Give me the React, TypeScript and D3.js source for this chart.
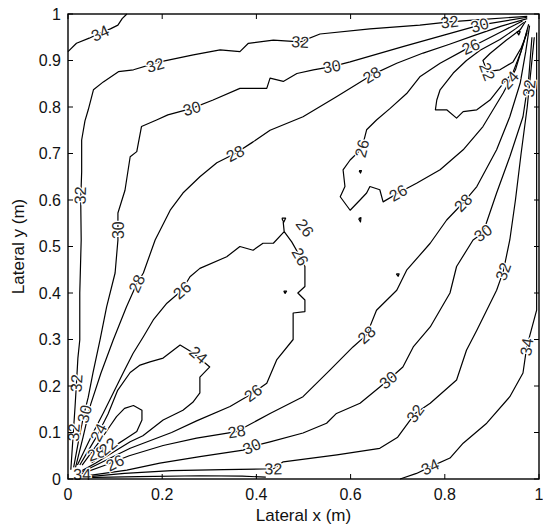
import React from 'react';
import * as d3 from 'd3';

// ---- axes ----
const xTicks = [0, 0.2, 0.4, 0.6, 0.8, 1];
const xTickLabels = ['0', '0.2', '0.4', '0.6', '0.8', '1'];
const yTicks = [0, 0.1, 0.2, 0.3, 0.4, 0.5, 0.6, 0.7, 0.8, 0.9, 1];
const yTickLabels = ['0', '0.1', '0.2', '0.3', '0.4', '0.5', '0.6', '0.7', '0.8', '0.9', '1'];
const xTitle = 'Lateral x (m)';
const yTitle = 'Lateral y (m)';

// ---- contour lines, [x, y] in metres ----
const c34TopLeft = [[0, 0.919], [0.018, 0.937], [0.045, 0.948], [0.068, 0.959], [0.09, 0.968], [0.106, 0.976], [0.115, 0.99], [0.125, 1]];

const c32Upper = [[0.006, 0.02], [0.01, 0.08], [0.015, 0.156], [0.018, 0.206], [0.021, 0.26], [0.025, 0.299], [0.025, 0.4], [0.028, 0.514], [0.027, 0.6], [0.029, 0.66], [0.029, 0.729], [0.036, 0.77], [0.043, 0.794], [0.054, 0.837], [0.075, 0.854], [0.107, 0.876], [0.139, 0.88], [0.195, 0.897], [0.266, 0.912], [0.323, 0.923], [0.365, 0.919], [0.383, 0.937], [0.436, 0.944], [0.493, 0.94], [0.535, 0.957], [0.641, 0.968], [0.747, 0.976], [0.81, 0.983], [0.874, 0.988], [0.975, 0.995]];

const c30Upper = [[0.012, 0.025], [0.022, 0.08], [0.033, 0.135], [0.043, 0.176], [0.053, 0.228], [0.068, 0.299], [0.082, 0.37], [0.1, 0.443], [0.106, 0.514], [0.106, 0.572], [0.121, 0.621], [0.132, 0.693], [0.146, 0.704], [0.156, 0.758], [0.188, 0.772], [0.212, 0.783], [0.263, 0.797], [0.308, 0.815], [0.365, 0.84], [0.422, 0.84], [0.429, 0.862], [0.457, 0.855], [0.486, 0.872], [0.521, 0.88], [0.56, 0.887], [0.599, 0.897], [0.711, 0.93], [0.8, 0.955], [0.874, 0.976], [0.975, 0.993]];

const c28Upper = [[0.016, 0.025], [0.032, 0.09], [0.048, 0.16], [0.07, 0.228], [0.096, 0.299], [0.124, 0.37], [0.146, 0.42], [0.16, 0.443], [0.185, 0.514], [0.217, 0.578], [0.244, 0.615], [0.28, 0.65], [0.316, 0.68], [0.355, 0.7], [0.393, 0.725], [0.429, 0.75], [0.499, 0.779], [0.57, 0.822], [0.645, 0.869], [0.698, 0.894], [0.754, 0.916], [0.81, 0.935], [0.86, 0.953], [0.92, 0.974], [0.975, 0.99]];

// closed from the (0,0) corner, with a saddle near (0.46, 0.53)
const c26Lower = [[0.02, 0.03], [0.053, 0.099], [0.075, 0.142], [0.096, 0.185], [0.117, 0.228], [0.138, 0.27], [0.16, 0.306], [0.181, 0.342], [0.21, 0.378], [0.242, 0.406], [0.259, 0.435], [0.28, 0.453], [0.337, 0.478], [0.365, 0.5], [0.393, 0.492], [0.414, 0.507], [0.436, 0.507], [0.459, 0.532], [0.457, 0.552], [0.459, 0.532], [0.475, 0.51], [0.493, 0.478], [0.503, 0.457], [0.503, 0.414], [0.488, 0.4], [0.503, 0.385], [0.503, 0.36], [0.478, 0.357], [0.478, 0.3], [0.443, 0.256], [0.422, 0.206], [0.393, 0.185], [0.344, 0.156], [0.273, 0.125], [0.22, 0.1], [0.132, 0.066], [0.09, 0.045], [0.03, 0.015]];

const c24Lower = [[0.025, 0.03], [0.06, 0.09], [0.085, 0.14], [0.105, 0.19], [0.132, 0.229], [0.153, 0.245], [0.174, 0.252], [0.202, 0.26], [0.238, 0.288], [0.266, 0.271], [0.301, 0.241], [0.28, 0.219], [0.28, 0.185], [0.265, 0.165], [0.244, 0.148], [0.202, 0.127], [0.159, 0.093], [0.132, 0.08], [0.1, 0.06], [0.06, 0.035], [0.03, 0.018]];

const c22Lower = [[0.03, 0.03], [0.07, 0.085], [0.09, 0.115], [0.103, 0.134], [0.12, 0.152], [0.139, 0.158], [0.157, 0.148], [0.157, 0.127], [0.146, 0.102], [0.125, 0.088], [0.105, 0.075], [0.085, 0.058], [0.05, 0.035]];

const c28Lower = [[0.025, 0.01], [0.08, 0.03], [0.13, 0.05], [0.202, 0.072], [0.273, 0.088], [0.358, 0.102], [0.4, 0.125], [0.429, 0.141], [0.499, 0.177], [0.556, 0.234], [0.605, 0.284], [0.634, 0.31], [0.655, 0.363], [0.698, 0.406], [0.719, 0.449], [0.769, 0.507], [0.804, 0.557], [0.839, 0.594], [0.868, 0.629], [0.91, 0.708], [0.938, 0.779], [0.96, 0.851], [0.972, 0.92], [0.98, 0.975]];

const c30Lower = [[0.035, 0.006], [0.125, 0.019], [0.195, 0.034], [0.28, 0.048], [0.372, 0.062], [0.39, 0.07], [0.429, 0.08], [0.499, 0.099], [0.549, 0.12], [0.57, 0.141], [0.62, 0.163], [0.662, 0.198], [0.68, 0.213], [0.711, 0.241], [0.733, 0.284], [0.769, 0.327], [0.811, 0.4], [0.825, 0.457], [0.86, 0.514], [0.881, 0.529], [0.91, 0.615], [0.938, 0.693], [0.966, 0.779], [0.978, 0.86], [0.985, 0.95]];

const c32Lower = [[0.045, 0.005], [0.12, 0.012], [0.22, 0.018], [0.33, 0.02], [0.436, 0.022], [0.457, 0.037], [0.571, 0.052], [0.662, 0.066], [0.7, 0.09], [0.737, 0.141], [0.769, 0.163], [0.825, 0.213], [0.846, 0.277], [0.868, 0.32], [0.91, 0.406], [0.924, 0.446], [0.938, 0.514], [0.95, 0.6], [0.962, 0.7], [0.975, 0.8], [0.983, 0.88], [0.99, 0.95]];

const c34Lower = [[0.705, 0], [0.74, 0.012], [0.769, 0.026], [0.811, 0.045], [0.839, 0.077], [0.889, 0.12], [0.938, 0.177], [0.966, 0.228], [0.974, 0.284], [0.995, 0.363], [0.995, 0.6], [0.995, 0.85], [0.995, 0.96]];

const c34Bottom = [[0.03, 0.003], [0.15, 0.005], [0.28, 0.007], [0.37, 0.006], [0.42, 0.004]];

// closed from the (1,1) corner
const c26Upper = [[0.965, 0.985], [0.92, 0.962], [0.868, 0.935], [0.846, 0.925], [0.79, 0.894], [0.747, 0.865], [0.719, 0.829], [0.684, 0.797], [0.655, 0.772], [0.634, 0.751], [0.624, 0.711], [0.599, 0.686], [0.584, 0.665], [0.588, 0.629], [0.578, 0.607], [0.599, 0.578], [0.62, 0.6], [0.634, 0.615], [0.641, 0.629], [0.662, 0.622], [0.669, 0.596], [0.701, 0.615], [0.74, 0.636], [0.79, 0.665], [0.839, 0.708], [0.881, 0.758], [0.924, 0.83], [0.95, 0.88], [0.968, 0.94], [0.978, 0.978]];

const c24Upper = [[0.968, 0.982], [0.95, 0.968], [0.917, 0.945], [0.875, 0.922], [0.846, 0.9], [0.818, 0.873], [0.79, 0.837], [0.783, 0.815], [0.78, 0.794], [0.804, 0.794], [0.825, 0.776], [0.839, 0.79], [0.868, 0.794], [0.896, 0.815], [0.924, 0.851], [0.945, 0.875], [0.962, 0.92], [0.975, 0.965]];

const c22Upper = [[0.972, 0.985], [0.96, 0.966], [0.931, 0.944], [0.896, 0.915], [0.881, 0.9], [0.89, 0.876], [0.917, 0.88], [0.945, 0.897], [0.962, 0.927], [0.975, 0.96]];

// isolated specks
const speck1 = [[0.454, 0.561], [0.462, 0.561], [0.458, 0.552], [0.454, 0.561]];
const speck2 = [[0.458, 0.404], [0.464, 0.404], [0.461, 0.399], [0.458, 0.404]];
const speck3 = [[0.617, 0.56], [0.622, 0.562], [0.621, 0.553], [0.617, 0.56]];
const speck4 = [[0.697, 0.441], [0.703, 0.441], [0.701, 0.436], [0.697, 0.441]];
const speck5 = [[0.618, 0.663], [0.623, 0.663], [0.621, 0.658], [0.618, 0.663]];
const speck6 = [[0.953, 0.962], [0.96, 0.962], [0.957, 0.955], [0.953, 0.962]];

const contourLines = [
  { level: 34, pts: c34TopLeft }, { level: 32, pts: c32Upper }, { level: 30, pts: c30Upper },
  { level: 28, pts: c28Upper }, { level: 26, pts: c26Lower }, { level: 24, pts: c24Lower },
  { level: 22, pts: c22Lower }, { level: 28, pts: c28Lower }, { level: 30, pts: c30Lower },
  { level: 32, pts: c32Lower }, { level: 34, pts: c34Lower }, { level: 34, pts: c34Bottom },
  { level: 26, pts: c26Upper }, { level: 24, pts: c24Upper }, { level: 22, pts: c22Upper },
  { level: 26, pts: speck1 }, { level: 26, pts: speck2 }, { level: 26, pts: speck3 },
  { level: 26, pts: speck4 }, { level: 26, pts: speck5 }, { level: 22, pts: speck6 },
];

// ---- inline contour labels [level, x, y] ----
const contourLabels = [
  [34, 0.068, 0.959], [32, 0.185, 0.89], [32, 0.493, 0.94], [32, 0.81, 0.983],
  [32, 0.026, 0.61], [32, 0.018, 0.206], [32, 0.436, 0.022], [32, 0.737, 0.141],
  [32, 0.924, 0.446], [32, 0.979, 0.84],
  [30, 0.263, 0.797], [30, 0.56, 0.887], [30, 0.106, 0.535], [30, 0.39, 0.07],
  [30, 0.68, 0.213], [30, 0.881, 0.529], [30, 0.035, 0.14], [30, 0.874, 0.976],
  [28, 0.355, 0.7], [28, 0.645, 0.869], [28, 0.146, 0.42], [28, 0.358, 0.102],
  [28, 0.634, 0.31], [28, 0.839, 0.594], [28, 0.06, 0.055],
  [26, 0.242, 0.406], [26, 0.393, 0.185], [26, 0.493, 0.478], [26, 0.503, 0.54],
  [26, 0.624, 0.711], [26, 0.701, 0.615], [26, 0.855, 0.93], [26, 0.1, 0.035],
  [24, 0.277, 0.267], [24, 0.938, 0.858], [24, 0.065, 0.1],
  [22, 0.89, 0.876], [22, 0.085, 0.07],
  [32, 0.012, 0.1], [34, 0.03, 0.01],
  [34, 0.769, 0.026], [34, 0.974, 0.284],
];

const W = 543;
const H = 527;
const plot = { left: 68, right: 539, top: 14, bottom: 479 };

export default function App() {
  const x = d3.scaleLinear().domain([0, 1]).range([plot.left, plot.right]);
  const y = d3.scaleLinear().domain([0, 1]).range([plot.bottom, plot.top]);
  const line = d3.line<number[]>().x((d) => x(d[0])).y((d) => y(d[1])).curve(d3.curveLinear);

  // orient each label along its nearest segment of the same level
  const labelMarks = contourLabels.map(([level, lx, ly], i) => {
    const px = x(lx), py = y(ly);
    let best = Infinity, angle = 0;
    contourLines.filter((c) => c.level === level && c.pts.length > 4).forEach((c) => {
      for (let k = 0; k < c.pts.length - 1; k++) {
        const ax = x(c.pts[k][0]), ay = y(c.pts[k][1]);
        const bx = x(c.pts[k + 1][0]), by = y(c.pts[k + 1][1]);
        const dx = bx - ax, dy = by - ay;
        const len2 = dx * dx + dy * dy || 1;
        const t = Math.max(0, Math.min(1, ((px - ax) * dx + (py - ay) * dy) / len2));
        const qx = ax + t * dx, qy = ay + t * dy;
        const dist = Math.hypot(px - qx, py - qy);
        if (dist < best) {
          best = dist;
          let a = (Math.atan2(dy, dx) * 180) / Math.PI;
          if (a > 90) a -= 180;
          if (a < -90) a += 180;
          angle = a;
        }
      }
    });
    return { key: i, text: String(level), px, py, angle };
  });

  const font = '"Liberation Sans", Arial, sans-serif';

  return (
    <svg width={W} height={H} style={{ position: 'absolute', left: 0, top: 0, background: '#fff' }}>
      <rect x={0} y={0} width={W} height={H} fill="#fff" />
      <g fill="none" stroke="#000" strokeWidth={1.2} strokeLinejoin="round">
        {contourLines.map((c, i) => (
          <path key={i} d={line(c.pts as number[][]) || ''} />
        ))}
      </g>
      <g fontFamily={font} fontSize={16} fill="#2a2a2a" textAnchor="middle">
        {labelMarks.map((m) => (
          <text
            key={m.key}
            x={0}
            y={0}
            dy="0.35em"
            transform={`translate(${m.px},${m.py}) rotate(${m.angle})`}
            stroke="#fff"
            strokeWidth={2.5}
            paintOrder="stroke"
          >
            {m.text}
          </text>
        ))}
      </g>
      {/* box and ticks */}
      <rect x={plot.left} y={plot.top} width={plot.right - plot.left} height={plot.bottom - plot.top} fill="none" stroke="#000" strokeWidth={1.4} />
      <g stroke="#000" strokeWidth={1}>
        {xTicks.map((t) => (
          <g key={'x' + t}>
            <line x1={x(t)} x2={x(t)} y1={plot.bottom} y2={plot.bottom - 5} />
            <line x1={x(t)} x2={x(t)} y1={plot.top} y2={plot.top + 5} />
          </g>
        ))}
        {yTicks.map((t) => (
          <g key={'y' + t}>
            <line x1={plot.left} x2={plot.left + 5} y1={y(t)} y2={y(t)} />
            <line x1={plot.right} x2={plot.right - 5} y1={y(t)} y2={y(t)} />
          </g>
        ))}
      </g>
      <g fontFamily={font} fontSize={16} fill="#111">
        {xTicks.map((t, i) => (
          <text key={'xl' + t} x={x(t)} y={plot.bottom + 21} textAnchor="middle">{xTickLabels[i]}</text>
        ))}
        {yTicks.map((t, i) => (
          <text key={'yl' + t} x={plot.left - 7} y={y(t)} dy="0.35em" textAnchor="end">{yTickLabels[i]}</text>
        ))}
        <text x={(plot.left + plot.right) / 2} y={plot.bottom + 42} textAnchor="middle" fontSize={17}>{xTitle}</text>
        <text transform={`translate(24,${(plot.top + plot.bottom) / 2}) rotate(-90)`} textAnchor="middle" fontSize={17}>{yTitle}</text>
      </g>
    </svg>
  );
}
